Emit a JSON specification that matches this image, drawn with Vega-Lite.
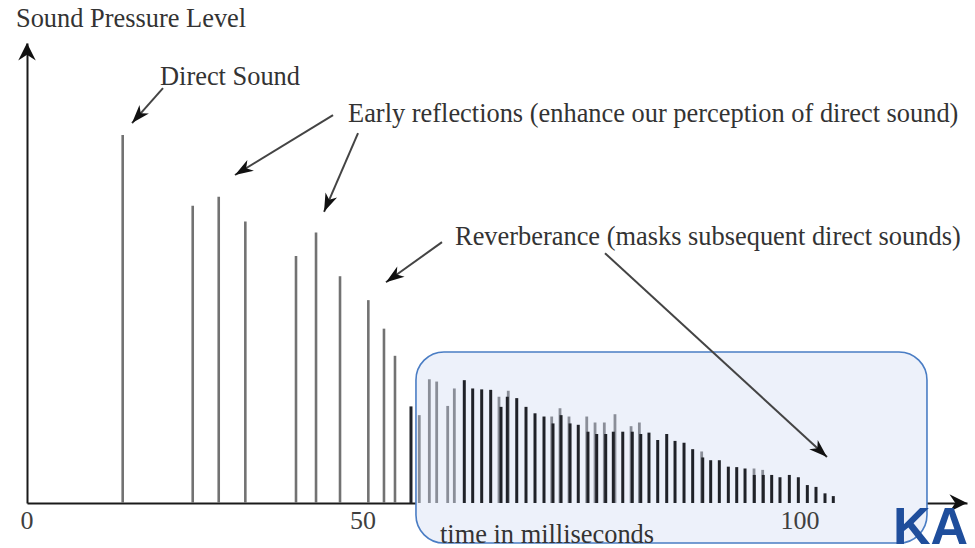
{
  "$schema": "https://vega.github.io/schema/vega-lite/v6.json",
  "width": 940,
  "height": 460,
  "autosize": "none",
  "padding": {"left": 27, "top": 43, "right": 8, "bottom": 45},
  "background": "white",
  "config": {
    "view": {"stroke": null},
    "axis": {"grid": false, "ticks": false, "labels": false, "domainColor": "#1a1a1a", "domainWidth": 2, "zindex": 1}
  },
  "datasets": {
    "box": [{"t": 56.06, "t2": 114.53, "L": 32.83, "L2": -8.7}],
    "pulses": [
      {"t": 14.24, "L": 80.0, "kind": "early"},
      {"t": 24.66, "L": 64.6, "kind": "early"},
      {"t": 28.53, "L": 66.6, "kind": "early"},
      {"t": 32.49, "L": 61.2, "kind": "early"},
      {"t": 40.03, "L": 53.7, "kind": "early"},
      {"t": 43.01, "L": 58.8, "kind": "early"},
      {"t": 46.58, "L": 49.3, "kind": "early"},
      {"t": 50.61, "L": 44.1, "kind": "early"},
      {"t": 52.40, "L": 37.9, "kind": "early"},
      {"t": 53.66, "L": 32.0, "kind": "early"},
      {"t": 55.49, "L": 21.0, "kind": "late"},
      {"t": 56.44, "L": 19.1, "kind": "faint"},
      {"t": 57.59, "L": 26.9, "kind": "faint"},
      {"t": 58.43, "L": 26.4, "kind": "faint"},
      {"t": 59.69, "L": 21.1, "kind": "faint"},
      {"t": 60.45, "L": 24.9, "kind": "faint"},
      {"t": 61.59, "L": 26.7, "kind": "late"},
      {"t": 62.55, "L": 24.9, "kind": "late"},
      {"t": 63.58, "L": 24.7, "kind": "late"},
      {"t": 64.61, "L": 24.6, "kind": "late"},
      {"t": 65.56, "L": 23.1, "kind": "faint"},
      {"t": 65.79, "L": 20.9, "kind": "late"},
      {"t": 66.62, "L": 24.4, "kind": "faint"},
      {"t": 66.51, "L": 23.1, "kind": "late"},
      {"t": 67.59, "L": 22.8, "kind": "late"},
      {"t": 68.65, "L": 20.9, "kind": "late"},
      {"t": 69.68, "L": 19.5, "kind": "late"},
      {"t": 70.71, "L": 18.8, "kind": "late"},
      {"t": 71.59, "L": 18.8, "kind": "faint"},
      {"t": 71.74, "L": 17.3, "kind": "late"},
      {"t": 72.54, "L": 20.6, "kind": "faint"},
      {"t": 72.66, "L": 19.1, "kind": "late"},
      {"t": 73.57, "L": 18.8, "kind": "faint"},
      {"t": 73.69, "L": 17.3, "kind": "late"},
      {"t": 74.63, "L": 17.0, "kind": "late"},
      {"t": 75.60, "L": 18.8, "kind": "faint"},
      {"t": 75.74, "L": 15.5, "kind": "late"},
      {"t": 76.55, "L": 17.5, "kind": "faint"},
      {"t": 76.74, "L": 15.0, "kind": "late"},
      {"t": 77.61, "L": 17.5, "kind": "faint"},
      {"t": 77.77, "L": 15.0, "kind": "late"},
      {"t": 78.83, "L": 19.3, "kind": "faint"},
      {"t": 78.64, "L": 15.5, "kind": "late"},
      {"t": 79.72, "L": 15.5, "kind": "late"},
      {"t": 80.67, "L": 16.7, "kind": "faint"},
      {"t": 80.81, "L": 15.5, "kind": "late"},
      {"t": 81.62, "L": 17.5, "kind": "faint"},
      {"t": 81.78, "L": 15.0, "kind": "late"},
      {"t": 82.72, "L": 15.3, "kind": "late"},
      {"t": 83.72, "L": 13.7, "kind": "late"},
      {"t": 84.75, "L": 15.0, "kind": "late"},
      {"t": 85.70, "L": 13.5, "kind": "late"},
      {"t": 86.73, "L": 13.1, "kind": "late"},
      {"t": 87.72, "L": 11.7, "kind": "late"},
      {"t": 88.75, "L": 11.2, "kind": "faint"},
      {"t": 88.87, "L": 9.9, "kind": "late"},
      {"t": 89.78, "L": 9.3, "kind": "late"},
      {"t": 90.77, "L": 9.3, "kind": "late"},
      {"t": 91.80, "L": 7.9, "kind": "late"},
      {"t": 92.76, "L": 7.8, "kind": "late"},
      {"t": 93.71, "L": 7.5, "kind": "late"},
      {"t": 94.74, "L": 7.5, "kind": "faint"},
      {"t": 94.77, "L": 6.1, "kind": "late"},
      {"t": 95.73, "L": 7.2, "kind": "faint"},
      {"t": 95.80, "L": 6.1, "kind": "late"},
      {"t": 96.76, "L": 6.1, "kind": "late"},
      {"t": 97.71, "L": 5.6, "kind": "late"},
      {"t": 98.78, "L": 6.1, "kind": "late"},
      {"t": 99.81, "L": 5.6, "kind": "late"},
      {"t": 100.84, "L": 3.9, "kind": "late"},
      {"t": 101.83, "L": 3.5, "kind": "late"},
      {"t": 102.86, "L": 2.1, "kind": "late"},
      {"t": 103.81, "L": 1.5, "kind": "late"}
    ],
    "arrows": [
      {"t": 15.63, "L": 82.6, "t2": 20.24, "L2": 90.2, "heading": 221.5},
      {"t": 30.95, "L": 71.3, "t2": 45.54, "L2": 84.3, "heading": 238.5},
      {"t": 44.20, "L": 63.3, "t2": 49.26, "L2": 80.4, "heading": 203.3},
      {"t": 52.63, "L": 48.0, "t2": 59.04, "L2": 56.7, "heading": 234.5},
      {"t": 103.09, "L": 10.0, "t2": 77.69, "L2": 54.3, "heading": 132.6}
    ],
    "axisArrows": [
      {"t": 119.11, "L": 0, "heading": 90},
      {"t": 0, "L": 100, "heading": 0}
    ],
    "ticks": [
      {"t": 0, "L": -1.1, "label": "0"},
      {"t": 50, "L": -1.1, "label": "50"},
      {"t": 100, "L": -1.1, "label": "100"}
    ],
    "notes": [
      {"t": -1.64, "L": 103.5, "label": "Sound Pressure Level"},
      {"t": 19.79, "L": 90.87, "label": "Direct Sound"},
      {"t": 47.77, "L": 82.83, "label": "Early reflections (enhance our perception of direct sound)"},
      {"t": 60.53, "L": 56.09, "label": "Reverberance (masks subsequent direct sounds)"},
      {"t": 58.81, "L": -8.6, "label": "time in milliseconds"}
    ],
    "logo": [{"t": 110.64, "L": -8.9, "label": "KA"}]
  },
  "layer": [
    {
      "data": {"name": "box"},
      "mark": {"type": "rect", "cornerRadius": 28, "fill": "#edf1fa", "stroke": null},
      "encoding": {
        "x": {"field": "t", "type": "quantitative", "title": null},
        "x2": {"field": "t2"},
        "y": {"field": "L", "type": "quantitative", "title": null},
        "y2": {"field": "L2"}
      }
    },
    {
      "data": {"name": "pulses"},
      "mark": {"type": "rule"},
      "encoding": {
        "x": {"field": "t", "type": "quantitative", "title": null,
              "scale": {"domain": [0, 50, 100, 119.11], "range": [0, 336, 773, 940], "nice": false, "zero": false},
              "axis": {"title": null, "labels": false}},
        "y": {"field": "L", "type": "quantitative", "title": null,
              "scale": {"domain": [0, 100], "nice": false},
              "axis": {"title": null, "labels": false}},
        "y2": {"datum": 0},
        "color": {"field": "kind", "type": "nominal", "legend": null,
                  "scale": {"domain": ["early", "faint", "late"], "range": ["#727272", "#8a8e98", "#202228"]}},
        "strokeWidth": {"field": "kind", "type": "nominal", "legend": null,
                  "scale": {"domain": ["early", "faint", "late"], "range": [2.6, 3, 3.3]}}
      }
    },
    {
      "data": {"name": "box"},
      "mark": {"type": "rect", "cornerRadius": 28, "filled": false, "stroke": "#4a7dc4", "strokeWidth": 1.6},
      "encoding": {
        "x": {"field": "t", "type": "quantitative", "title": null},
        "x2": {"field": "t2"},
        "y": {"field": "L", "type": "quantitative", "title": null},
        "y2": {"field": "L2"}
      }
    },
    {
      "data": {"name": "arrows"},
      "mark": {"type": "rule", "color": "#444444", "strokeWidth": 2},
      "encoding": {
        "x": {"field": "t", "type": "quantitative", "title": null},
        "x2": {"field": "t2"},
        "y": {"field": "L", "type": "quantitative", "title": null},
        "y2": {"field": "L2"}
      }
    },
    {
      "data": {"name": "arrows"},
      "mark": {"type": "point", "shape": "M0,0L-0.6,1.75L0,1.25L0.6,1.75Z", "filled": true, "color": "#111111", "opacity": 1, "size": 440},
      "encoding": {
        "x": {"field": "t", "type": "quantitative", "title": null},
        "y": {"field": "L", "type": "quantitative", "title": null},
        "angle": {"field": "heading", "type": "quantitative", "scale": null}
      }
    },
    {
      "data": {"name": "axisArrows"},
      "mark": {"type": "point", "shape": "M0,0L-0.9,1.8L0,1.2L0.9,1.8Z", "filled": true, "color": "#111111", "opacity": 1, "size": 380},
      "encoding": {
        "x": {"field": "t", "type": "quantitative", "title": null},
        "y": {"field": "L", "type": "quantitative", "title": null},
        "angle": {"field": "heading", "type": "quantitative", "scale": null}
      }
    },
    {
      "data": {"name": "ticks"},
      "mark": {"type": "text", "align": "center", "baseline": "top", "font": "Liberation Serif", "fontSize": 26, "color": "#3f3f3f"},
      "encoding": {
        "x": {"field": "t", "type": "quantitative", "title": null},
        "y": {"field": "L", "type": "quantitative", "title": null},
        "text": {"field": "label"}
      }
    },
    {
      "data": {"name": "notes"},
      "mark": {"type": "text", "align": "left", "baseline": "alphabetic", "font": "Liberation Serif", "fontSize": 26.4, "color": "#333333"},
      "encoding": {
        "x": {"field": "t", "type": "quantitative", "title": null},
        "y": {"field": "L", "type": "quantitative", "title": null},
        "text": {"field": "label"}
      }
    },
    {
      "data": {"name": "logo"},
      "mark": {"type": "text", "align": "left", "baseline": "alphabetic", "font": "Liberation Sans", "fontWeight": "bold", "fontSize": 52, "color": "#1f4e9c"},
      "encoding": {
        "x": {"field": "t", "type": "quantitative", "title": null},
        "y": {"field": "L", "type": "quantitative", "title": null},
        "text": {"field": "label"}
      }
    }
  ]
}
